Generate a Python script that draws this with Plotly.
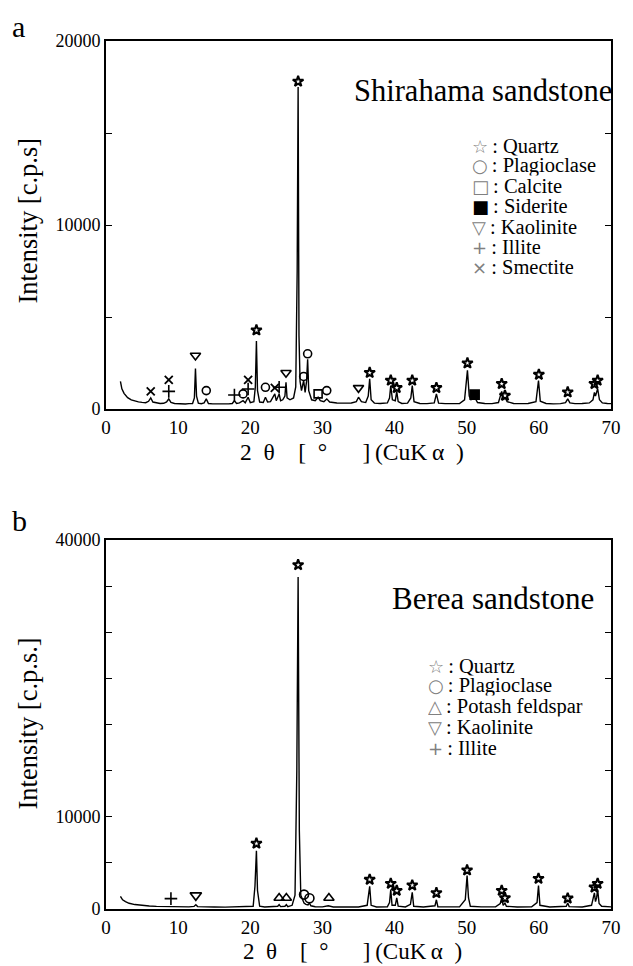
import plotly.graph_objects as go

# ---------------- Panel a : Shirahama sandstone ----------------
a_theta = [2.0, 2.2, 2.5, 3.0, 3.5, 4.0, 4.5, 5.0, 5.5, 5.9, 6.2, 6.5, 7.0, 7.5, 8.0, 8.4, 8.7, 9.0, 9.5, 10.0,
           10.5, 11.0, 11.5, 12.0, 12.25, 12.4, 12.55, 12.8, 13.2, 13.6, 13.9, 14.2, 14.8, 15.5, 16.0, 16.5, 17.0,
           17.5, 17.8, 18.1, 18.5, 19.0, 19.3, 19.7, 20.0, 20.5, 20.7, 20.85, 21.0, 21.3, 21.8, 22.1, 22.4, 22.8,
           23.1, 23.4, 23.6, 23.8, 24.0, 24.2, 24.5, 24.8, 24.95, 25.1, 25.5, 26.0, 26.3, 26.5, 26.63, 26.75, 26.9,
           27.1, 27.4, 27.6, 27.8, 27.95, 28.1, 28.5, 29.0, 29.4, 29.7, 30.2, 30.6, 31.0, 31.5, 32.0, 33.0, 34.0,
           34.7, 35.0, 35.4, 36.0, 36.35, 36.55, 36.75, 37.2, 38.0, 39.0, 39.3, 39.47, 39.7, 40.1, 40.3, 40.5, 41.0,
           41.8, 42.25, 42.45, 42.7, 43.5, 44.5, 45.5, 45.8, 46.1, 47.0, 48.0, 49.0, 49.7, 49.9, 50.1, 50.35, 50.6,
           51.1, 51.5, 52.5, 53.5, 54.4, 54.7, 54.85, 55.1, 55.3, 55.6, 56.5, 57.5, 58.5, 59.6, 59.95, 60.2, 61.0,
           62.0, 63.0, 63.7, 64.0, 64.3, 65.0, 66.0, 67.0, 67.5, 67.7, 67.85, 68.15, 68.4, 68.8, 69.5, 70.0]
a_cps = [1500, 1100, 850, 620, 500, 430, 390, 360, 340, 420, 600, 380, 320, 300, 310, 380, 550, 360, 300, 280,
         300, 270, 290, 300, 600, 2200, 700, 320, 290, 330, 550, 300, 280, 270, 300, 260, 280,
         300, 450, 300, 330, 450, 340, 640, 350, 400, 1200, 3700, 1000, 380, 350, 640, 380, 400,
         600, 820, 450, 650, 820, 450, 500, 700, 1450, 600, 500, 600, 1200, 7500, 17500, 4000, 1500,
         1000, 1550, 900, 1500, 2700, 1000, 500, 450, 640, 450, 400, 550, 380, 350, 330, 320, 330,
         400, 640, 400, 350, 700, 1640, 500, 320, 300, 330, 600, 1270, 500, 450, 960, 400, 300,
         320, 600, 1270, 400, 300, 290, 330, 820, 320, 290, 280, 300, 500, 1200, 2100, 700, 500,
         640, 350, 300, 290, 350, 700, 960, 500, 640, 400, 300, 290, 300, 400, 1550, 420, 300,
         280, 290, 350, 550, 330, 290, 300, 330, 500, 900, 700, 1100, 500, 330, 300, 290]

# peak identification markers, panel a  (2theta, marker height)
a_quartz_x = [20.85, 26.63, 36.55, 39.47, 40.3, 42.45, 45.8, 50.1, 54.85, 55.3, 60.0, 64.0, 67.7, 68.15]
a_quartz_y = [4280, 17800, 1970, 1550, 1150, 1550, 1150, 2490, 1370, 730, 1870, 910, 1370, 1550]
a_plag_x = [13.9, 19.0, 22.1, 27.4, 27.95, 30.6]
a_plag_y = [1000, 820, 1180, 1770, 3000, 1000]
a_calc_x = [29.4]
a_calc_y = [820]
a_sid_x = [51.1]
a_sid_y = [780]
a_kaol_x = [12.4, 24.95, 35.0]
a_kaol_y = [2910, 1970, 1150]
a_ill_x = [8.7, 17.8, 19.7, 24.0]
a_ill_y = [960, 760, 1090, 1180]
a_smec_x = [6.2, 8.7, 19.7, 23.4]
a_smec_y = [960, 1580, 1580, 1150]

# ---------------- Panel b : Berea sandstone ----------------
b_theta = [2.0, 2.3, 2.7, 3.2, 4.0, 5.0, 6.0, 7.0, 8.0, 9.0, 9.5, 10.5, 11.5, 12.2, 12.45, 12.7, 13.5, 15.0,
           16.5, 18.0, 19.5, 20.4, 20.65, 20.85, 21.0, 21.3, 22.0, 23.0, 23.8, 24.0, 24.2, 24.8, 25.0, 25.2,
           25.8, 26.2, 26.45, 26.63, 26.8, 27.0, 27.3, 27.45, 27.7, 28.0, 28.2, 28.4, 29.0, 30.0, 30.8, 31.0,
           31.5, 33.0, 35.0, 36.2, 36.55, 36.75, 37.5, 39.0, 39.3, 39.47, 39.65, 40.1, 40.3, 40.5, 41.5, 42.2,
           42.45, 42.65, 44.0, 45.6, 45.8, 46.0, 47.5, 49.0, 49.8, 50.05, 50.25, 50.5, 52.0, 54.0, 54.65, 54.85,
           55.05, 55.3, 55.5, 57.0, 59.0, 59.75, 59.95, 60.15, 61.5, 63.0, 63.8, 64.0, 64.2, 66.0, 67.3, 67.7,
           67.85, 68.0, 68.15, 68.35, 68.7, 70.0]
b_cps = [1380, 1000, 800, 620, 480, 380, 320, 280, 260, 300, 240, 230, 230, 280, 470, 260, 220, 210,
         200, 210, 220, 300, 2500, 6300, 2000, 300, 220, 220, 300, 470, 260, 300, 470, 260,
         400, 1500, 15000, 36000, 8500, 1500, 800, 650, 500, 450, 650, 350, 250, 230, 350, 300,
         220, 210, 220, 400, 2460, 400, 220, 230, 700, 2100, 400, 400, 1200, 300, 220, 500,
         1800, 300, 220, 350, 1000, 250, 220, 230, 1000, 3620, 1200, 300, 230, 230, 600, 1200,
         400, 650, 300, 220, 230, 700, 2530, 400, 220, 220, 300, 650, 260, 220, 400, 1740,
         800, 1200, 2100, 600, 300, 230]

b_quartz_x = [20.85, 26.63, 36.55, 39.47, 40.3, 42.45, 45.8, 50.05, 54.85, 55.3, 59.95, 64.0, 67.7, 68.15]
b_quartz_y = [7100, 37300, 3190, 2750, 1990, 2570, 1740, 4200, 1990, 1190, 3290, 1160, 2350, 2750]
b_plag_x = [27.45, 28.2]
b_plag_y = [1560, 1160]
b_kfs_x = [24.0, 25.0, 30.9]
b_kfs_y = [1190, 1190, 1190]
b_kaol_x = [12.45]
b_kaol_y = [1480]
b_ill_x = [9.0]
b_ill_y = [1120]

a_legend = [("☆", "Quartz"), ("○", "Plagioclase"), ("□", "Calcite"), ("■", "Siderite"),
            ("▽", "Kaolinite"), ("+", "Illite"), ("×", "Smectite")]
b_legend = [("☆", "Quartz"), ("○", "Plagioclase"), ("△", "Potash feldspar"),
            ("▽", "Kaolinite"), ("+", "Illite")]

x_ticks = [0, 10, 20, 30, 40, 50, 60, 70]

FONT = "Liberation Serif, Times New Roman, Times, serif"
OFF = 8                      # page body margin of the html page
W, H = 633 - OFF, 966 - OFF
# plot area in screenshot pixels: left 106, right 621, top 41, bottom 909
ML, MT = 106 - OFF, 41 - OFF
MR = W - (621 - OFF)
MB = H - (909 - OFF)
PH = H - MT - MB
PW = W - ML - MR


def py(p):
    return (H - MB - (p - OFF)) / PH


def px(p):
    return ((p - OFF) - ML) / PW


fig = go.Figure()


def add_panel(xs, ys, xa, ya):
    fig.add_trace(go.Scatter(x=xs, y=ys, mode="lines", line=dict(color="black", width=1.4),
                             xaxis=xa, yaxis=ya, showlegend=False, hoverinfo="skip"))


def add_marks(xs, ys, symbol, size, xa, ya, width=1.6):
    fig.add_trace(go.Scatter(x=xs, y=ys, mode="markers", xaxis=xa, yaxis=ya, showlegend=False,
                             marker=dict(symbol=symbol, size=size, color="black",
                                         line=dict(color="black", width=width))))


add_panel(a_theta, a_cps, "x", "y")
add_marks(a_quartz_x, a_quartz_y, "star-open", 8, "x", "y", 2)
add_marks(a_plag_x, a_plag_y, "circle-open", 8, "x", "y")
add_marks(a_calc_x, a_calc_y, "square-open", 8, "x", "y")
add_marks(a_sid_x, a_sid_y, "square", 9, "x", "y")
add_marks(a_kaol_x, a_kaol_y, "triangle-down-open", 9, "x", "y")
add_marks(a_ill_x, a_ill_y, "cross-thin-open", 9, "x", "y")
add_marks(a_smec_x, a_smec_y, "x-thin-open", 8, "x", "y", 1.8)

add_panel(b_theta, b_cps, "x2", "y2")
add_marks(b_quartz_x, b_quartz_y, "star-open", 8, "x2", "y2", 2)
add_marks(b_plag_x, b_plag_y, "circle-open", 9, "x2", "y2")
add_marks(b_kfs_x, b_kfs_y, "triangle-up-open", 9, "x2", "y2")
add_marks(b_kaol_x, b_kaol_y, "triangle-down-open", 10, "x2", "y2")
add_marks(b_ill_x, b_ill_y, "cross-thin-open", 9, "x2", "y2")

xcommon = dict(range=[0, 70], tickvals=x_ticks, ticks="", showgrid=False, zeroline=False,
               showline=True, linecolor="black", linewidth=1.6, mirror=True,
               tickfont=dict(family=FONT, size=19, color="black"))
ycommon = dict(showgrid=False, zeroline=False, showline=True, linecolor="black", linewidth=1.6,
               mirror="allticks", ticks="inside", ticklen=6, tickcolor="black",
               tickfont=dict(family=FONT, size=18, color="black"))

fig.update_layout(
    width=W, height=H, margin=dict(l=ML, r=MR, t=MT, b=MB),
    paper_bgcolor="white", plot_bgcolor="white",
    xaxis=dict(domain=[0, 1], anchor="y", **xcommon),
    yaxis=dict(domain=[py(409), 1.0], anchor="x", range=[0, 20000],
               tickvals=[0, 5000, 10000, 15000, 20000], ticktext=["0", "", "10000", "", "20000"], **ycommon),
    xaxis2=dict(domain=[0, 1], anchor="y2", **xcommon),
    yaxis2=dict(domain=[0, py(540)], anchor="x2", range=[0, 40000],
                tickvals=[0, 5000, 10000, 15000, 20000, 25000, 30000, 35000, 40000],
                ticktext=["0", "", "10000", "", "", "", "", "", "40000"], **ycommon),
)

ann = []


def text(x, y, s, size, xanchor="center", angle=0, height=None):
    a = dict(x=x, y=y, xref="paper", yref="paper", text=s, showarrow=False, xanchor=xanchor,
             yanchor="middle", textangle=angle, font=dict(family=FONT, size=size, color="black"))
    if height is not None:
        a.update(height=height, borderpad=0, valign="middle")
    ann.append(a)


text(px(8), py(26), "a", 30, "left")
text(px(8), py(520), "b", 30, "left")
text(px(624), py(91), "Shirahama sandstone", 30.5, "right")
text(px(606), py(598), "Berea sandstone", 31, "right")
xt = "2\u2002θ\u2003[\u2002°\u2003\u2002]\u2009(CuK\u2009α\u2002)"
text(px(357), py(452), xt, 23.5)
text(px(357), py(951), xt, 23)
text(px(26), py(221), "Intensity [c.p.s]", 26.5, angle=-90)
text(px(26), py(724), "Intensity [c.p.s.]", 26.5, angle=-90)


def legend_row(x, y, sym, name):
    col = "#000000" if sym == "■" else "#808080"
    s = (f"<span style='font-family:DejaVu Sans;font-size:18px;color:{col}'>{sym}</span>"
         f"\u2009: {name}")
    text(x, y, s, 20.5, "left", height=19.4)


for i, (sym, name) in enumerate(a_legend):
    legend_row(px(478), py(145 + 20.3 * i), sym, name)
for i, (sym, name) in enumerate(b_legend):
    legend_row(px(433), py(665 + 20.5 * i), sym, name)

fig.update_layout(annotations=ann)
fig.write_html("out.html")
